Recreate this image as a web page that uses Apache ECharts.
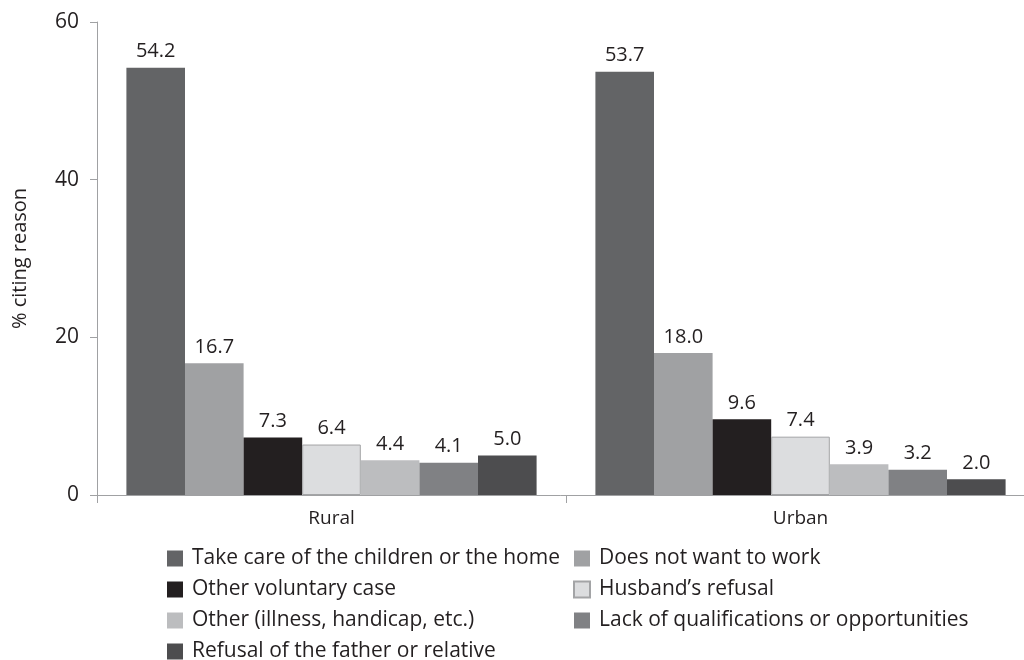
<!DOCTYPE html>
<html>
<head>
    <meta charset="utf-8" />
    <title>Reasons for not working</title>
    <style>
        html, body { margin: 0; padding: 0; background: #fff; }
    </style>
</head>
<body>

    <div id="divChart" style="width:1024px;height:660px;"></div>

    <script src="https://cdn.jsdelivr.net/npm/echarts@6/dist/echarts.min.js"></script>
    <script>
        // data
        var categories = ['Rural', 'Urban'];
        var reasons = [
            'Take care of the children or the home',
            'Does not want to work',
            'Other voluntary case',
            'Husband\u2019s refusal',
            'Other (illness, handicap, etc.)',
            'Lack of qualifications or opportunities',
            'Refusal of the father or relative'
        ];
        var takeCare = [54.2, 53.7];
        var notWant = [16.7, 18.0];
        var otherVoluntary = [7.3, 9.6];
        var husband = [6.4, 7.4];
        var otherIllness = [4.4, 3.9];
        var lackQual = [4.1, 3.2];
        var refusalFather = [5.0, 2.0];
        var yTicks = [0, 20, 40, 60];

        var seriesValues = [takeCare, notWant, otherVoluntary, husband, otherIllness, lackQual, refusalFather];
        var barColors = ['#636466', '#a0a1a3', '#231f20', '#dcdddf', '#bcbdbf', '#808184', '#4d4d4f'];
        var fontFamily = '"Open Sans", sans-serif';
        var textColor = '#231f20';

        var myChart = echarts.init(document.getElementById('divChart'), null, { renderer: 'canvas' });

        var series = seriesValues.map(function (vals, i) {
            return {
                name: reasons[i],
                type: 'bar',
                data: vals,
                barWidth: 58.6,
                barGap: '0%',
                itemStyle: {
                    color: barColors[i],
                    borderColor: i === 3 ? '#a3a4a6' : barColors[i],
                    borderWidth: i === 3 ? 1 : 0
                },
                label: {
                    show: true,
                    position: 'top',
                    distance: 6,
                    color: textColor,
                    fontSize: 20,
                    fontFamily: fontFamily,
                    formatter: function (p) { return p.value.toFixed(1); }
                }
            };
        });

        // legend laid out as two columns
        var legendText = {
            color: textColor, fontSize: 21, lineHeight: 21,
            fontFamily: fontFamily, padding: [0, 0, 0, 4]
        };

        var option = {
            animation: false,
            backgroundColor: '#fff',
            grid: { left: 97, top: 22, width: 938, height: 473, outerBoundsMode: 'none', containLabel: false },
            legend: [
                {
                    orient: 'vertical',
                    left: 167,
                    top: 548,
                    height: 140,
                    padding: 0,
                    icon: 'rect',
                    itemWidth: 16,
                    itemHeight: 16,
                    itemGap: 10,
                    textStyle: legendText,
                    data: [reasons[0], reasons[2], reasons[4], reasons[6]]
                },
                {
                    orient: 'vertical',
                    left: 573,
                    top: 548,
                    height: 140,
                    padding: 0,
                    icon: 'rect',
                    itemWidth: 16,
                    itemHeight: 16,
                    itemGap: 10,
                    textStyle: legendText,
                    data: [reasons[1], reasons[3], reasons[5]]
                }
            ],
            xAxis: {
                type: 'category',
                data: categories,
                axisLine: { lineStyle: { color: '#a0a1a3', width: 1 } },
                axisTick: { show: true, length: 8, lineStyle: { color: '#a0a1a3' } },
                axisLabel: { color: textColor, fontSize: 19, fontFamily: fontFamily, margin: 14 }
            },
            yAxis: {
                type: 'value',
                min: yTicks[0],
                max: yTicks[yTicks.length - 1],
                interval: 20,
                name: '% citing reason',
                nameLocation: 'middle',
                nameGap: 67,
                nameTextStyle: { color: textColor, fontSize: 20, fontFamily: fontFamily },
                splitLine: { show: false },
                axisLine: { show: true, lineStyle: { color: '#a0a1a3', width: 1 } },
                axisTick: { show: true, length: 7, lineStyle: { color: '#a0a1a3' } },
                axisLabel: { color: textColor, fontSize: 21, fontFamily: fontFamily, margin: 18 }
            },
            series: series
        };

        myChart.setOption(option);
    </script>
</body>
</html>
